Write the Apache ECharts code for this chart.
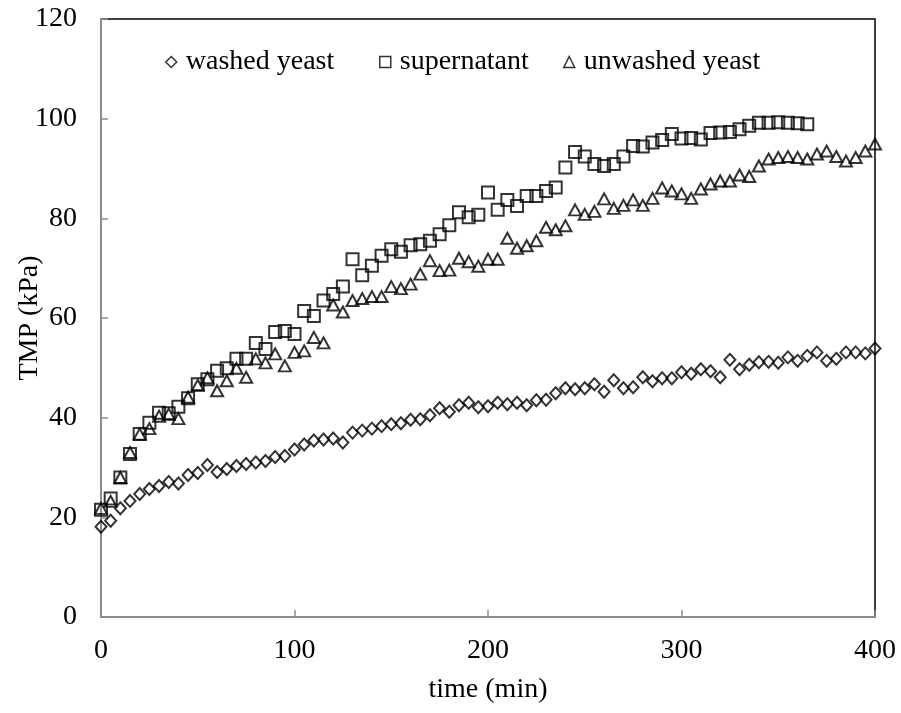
<!DOCTYPE html>
<html>
<head>
<meta charset="utf-8">
<title>TMP vs time</title>
<script src="https://cdn.jsdelivr.net/npm/echarts@6/dist/echarts.min.js"></script>
<style>
  html, body { margin: 0; padding: 0; background: #fff; }
  #chart { width: 901px; height: 713px; }
</style>
</head>
<body>
<div id="chart"></div>
<script>
// time (min)
const timeWashed = [0, 5, 10, 15, 20, 25, 30, 35, 40, 45, 50, 55, 60, 65, 70, 75, 80, 85, 90, 95,
  100, 105, 110, 115, 120, 125, 130, 135, 140, 145, 150, 155, 160, 165, 170, 175, 180, 185, 190, 195,
  200, 205, 210, 215, 220, 225, 230, 235, 240, 245, 250, 255, 260, 265, 270, 275, 280, 285, 290, 295,
  300, 305, 310, 315, 320, 325, 330, 335, 340, 345, 350, 355, 360, 365, 370, 375, 380, 385, 390, 395, 400]
const timeSuper = [0, 5, 10, 15, 20, 25, 30, 35, 40, 45, 50, 55, 60, 65, 70, 75, 80, 85, 90, 95,
  100, 105, 110, 115, 120, 125, 130, 135, 140, 145, 150, 155, 160, 165, 170, 175, 180, 185, 190, 195,
  200, 205, 210, 215, 220, 225, 230, 235, 240, 245, 250, 255, 260, 265, 270, 275, 280, 285, 290, 295,
  300, 305, 310, 315, 320, 325, 330, 335, 340, 345, 350, 355, 360, 365]
const timeUnwashed = timeWashed

// TMP (kPa)
const tmpWashed = [18.1, 19.3, 21.8, 23.3, 24.7, 25.7, 26.3, 27.1, 26.8, 28.5,
  28.9, 30.5, 29.1, 29.7, 30.3, 30.7, 31.0, 31.3, 32.1, 32.3,
  33.6, 34.6, 35.4, 35.6, 35.8, 35.0, 37.0, 37.4, 37.8, 38.3,
  38.7, 38.9, 39.6, 39.7, 40.5, 41.9, 41.2, 42.5, 43.0, 42.1,
  42.3, 43.0, 42.7, 43.0, 42.5, 43.5, 43.6, 44.9, 45.9, 45.7,
  45.9, 46.7, 45.2, 47.5, 45.9, 46.1, 48.1, 47.3, 47.9, 47.9,
  49.1, 48.8, 49.7, 49.3, 48.1, 51.6, 49.7, 50.6, 51.1, 51.2,
  51.0, 52.1, 51.4, 52.4, 53.1, 51.4, 51.8, 53.1, 53.1, 52.9, 53.9]
const tmpSuper = [21.5, 23.8, 28.0, 32.7, 36.7, 39.0, 41.0, 40.9, 42.2, 43.9,
  46.7, 47.7, 49.4, 49.9, 51.8, 51.8, 55.0, 53.8, 57.2, 57.4,
  56.8, 61.4, 60.4, 63.5, 64.8, 66.3, 71.8, 68.6, 70.5, 72.5,
  73.8, 73.3, 74.6, 74.8, 75.5, 76.8, 78.6, 81.2, 80.2, 80.7,
  85.2, 81.7, 83.7, 82.5, 84.5, 84.5, 85.5, 86.2, 90.2, 93.3,
  92.4, 90.9, 90.5, 90.9, 92.4, 94.5, 94.4, 95.2, 95.7, 96.9,
  96.0, 96.1, 95.8, 97.1, 97.2, 97.3, 97.9, 98.6, 99.2, 99.2,
  99.3, 99.2, 99.1, 98.9]
const tmpUnwashed = [21.8, 23.2, 28.0, 33.0, 36.7, 37.8, 40.3, 40.7, 39.8, 44.1,
  46.5, 48.0, 45.4, 47.4, 49.9, 48.1, 51.8, 51.0, 52.8, 50.4,
  53.1, 53.4, 56.1, 55.0, 62.6, 61.2, 63.5, 63.9, 64.3, 64.3,
  66.3, 65.9, 66.8, 68.8, 71.5, 69.5, 69.6, 72.0, 71.3, 70.4,
  71.8, 71.8, 76.0, 74.0, 74.5, 75.5, 78.2, 77.7, 78.5, 81.7,
  80.8, 81.4, 83.9, 82.0, 82.6, 83.7, 82.6, 84.0, 86.1, 85.5,
  84.9, 84.0, 85.9, 86.9, 87.5, 87.5, 88.7, 88.4, 90.5, 91.9,
  92.2, 92.4, 92.2, 91.9, 92.9, 93.5, 92.4, 91.5, 92.2, 93.5, 94.9]

const seriesNames = ['washed yeast', 'supernatant', 'unwashed yeast']
const xTicks = [0, 100, 200, 300, 400]
const yTicks = [0, 20, 40, 60, 80, 100, 120]

const FONT = 'Liberation Serif, Times New Roman, serif'
const AXIS_GRAY = '#8c8c8c'

const pairs = (xs, ys) => xs.map((x, i) => [x, ys[i]])

// hollow black markers, no connecting line
const markerStyle = {
  color: 'transparent',
  borderColor: '#000',
  borderWidth: 2
}

const legendBase = {
  orient: 'horizontal',
  top: 43,
  itemWidth: 11,
  itemHeight: 11,
  itemStyle: { borderWidth: 1.5 },
  textStyle: {
    fontFamily: FONT,
    fontSize: 28,
    color: '#000',
    padding: [0, 0, 0, 4]
  }
}

const axisCommon = {
  type: 'value',
  axisLine: { show: true, lineStyle: { color: AXIS_GRAY, width: 2 } },
  axisTick: { show: true, inside: true, length: 7, lineStyle: { color: AXIS_GRAY, width: 1.5 } },
  splitLine: { show: false },
  axisLabel: { fontFamily: FONT, fontSize: 28, color: '#000' },
  nameTextStyle: { fontFamily: FONT, fontSize: 28, color: '#000' },
  nameLocation: 'middle',
  nameMoveOverlap: false
}

const chart = echarts.init(document.getElementById('chart'), null, { renderer: 'canvas' })

const option = {
  backgroundColor: '#fff',
  animation: false,
  grid: {
    left: 101,
    right: 26,
    top: 19,
    bottom: 96,
    outerBoundsMode: 'none',
    containLabel: false,
    show: true,
    borderColor: '#000',
    borderWidth: 1.5,
    backgroundColor: 'transparent'
  },
  legend: [
    Object.assign({}, legendBase, { data: [seriesNames[0]], left: 160 }),
    Object.assign({}, legendBase, { data: [seriesNames[1]], left: 374 }),
    Object.assign({}, legendBase, { data: [seriesNames[2]], left: 558 })
  ],
  xAxis: Object.assign({}, axisCommon, {
    min: xTicks[0],
    max: xTicks[xTicks.length - 1],
    interval: xTicks[1] - xTicks[0],
    name: 'time (min)',
    nameGap: 59,
    axisLabel: Object.assign({}, axisCommon.axisLabel, { margin: 20 })
  }),
  yAxis: Object.assign({}, axisCommon, {
    min: yTicks[0],
    max: yTicks[yTicks.length - 1],
    interval: yTicks[1] - yTicks[0],
    name: 'TMP (kPa)',
    nameGap: 57,
    axisLabel: Object.assign({}, axisCommon.axisLabel, { margin: 24 })
  }),
  series: [
    {
      name: seriesNames[0],
      type: 'scatter',
      symbol: 'diamond',
      symbolSize: [11, 12],
      itemStyle: markerStyle,
      data: pairs(timeWashed, tmpWashed)
    },
    {
      name: seriesNames[1],
      type: 'scatter',
      symbol: 'rect',
      symbolSize: [12, 12],
      itemStyle: markerStyle,
      data: pairs(timeSuper, tmpSuper)
    },
    {
      name: seriesNames[2],
      type: 'scatter',
      symbol: 'triangle',
      symbolSize: [12, 11],
      itemStyle: markerStyle,
      data: pairs(timeUnwashed, tmpUnwashed)
    }
  ]
}

chart.setOption(option)
</script>
</body>
</html>
